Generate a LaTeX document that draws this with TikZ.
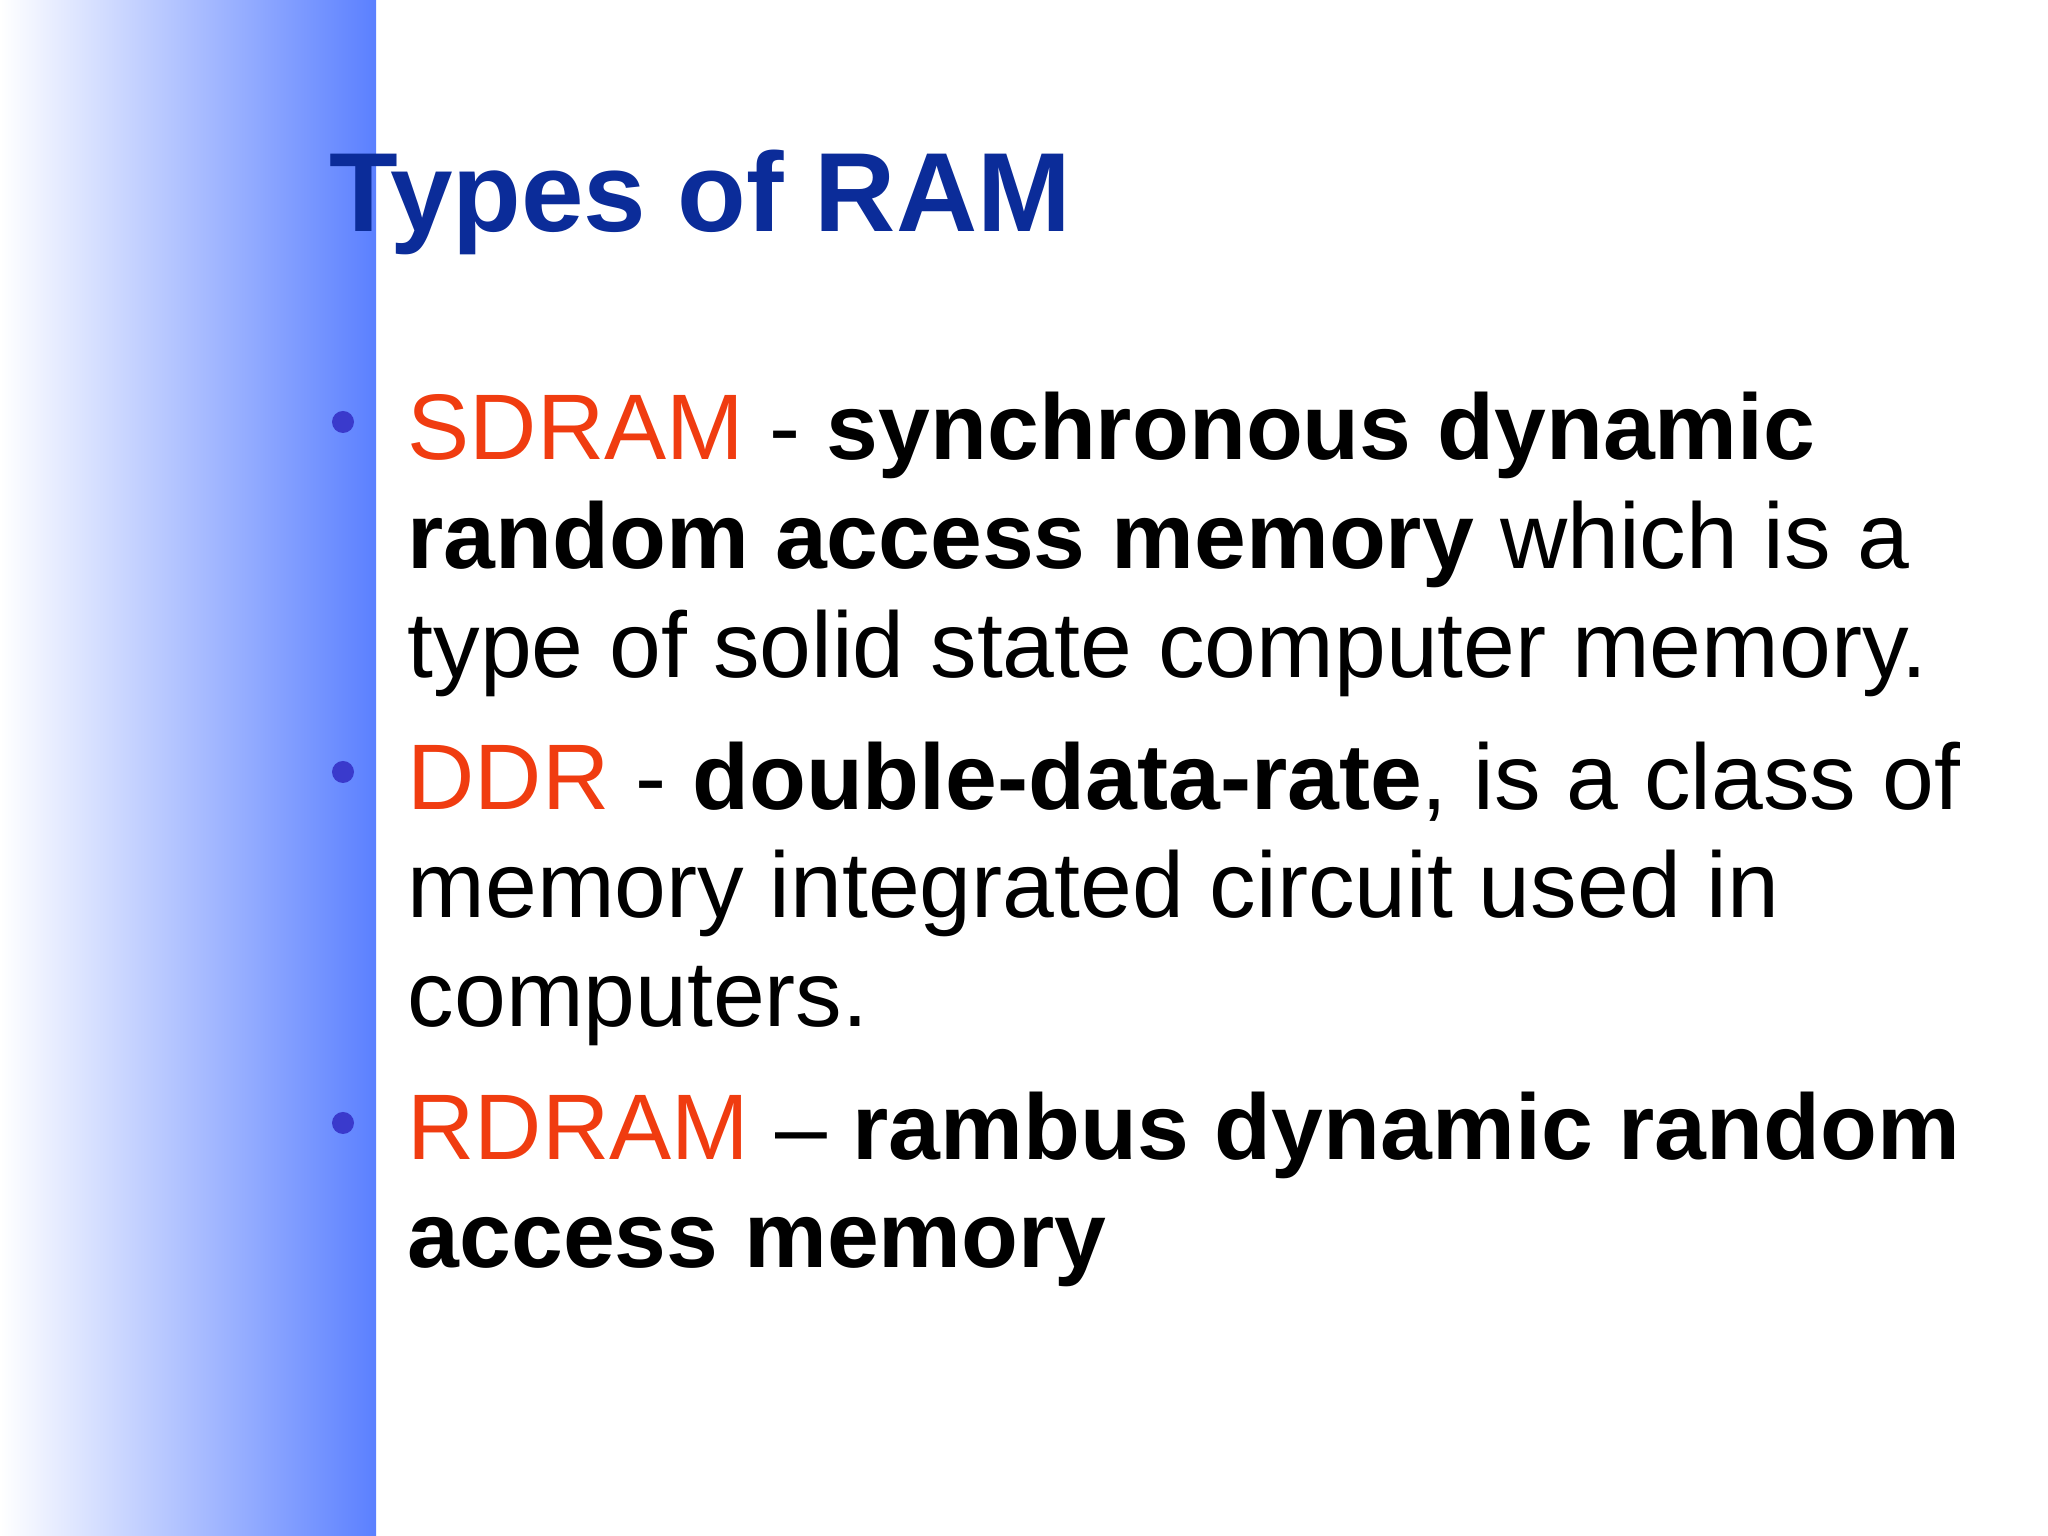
\documentclass[tikz,border=0pt]{standalone}
\usepackage{fontspec}
\setmainfont{Liberation Sans}
\definecolor{barblue}{HTML}{5B80FF}
\definecolor{titleblue}{HTML}{0B2C99}
\definecolor{termred}{HTML}{F03C10}
\definecolor{bulletblue}{HTML}{3A3ACC}
\begin{document}
\begin{tikzpicture}[x=1cm,y=1cm,
  line/.style={anchor=base west,inner sep=0pt,font=\fontsize{26.5pt}{31pt}\selectfont},
  bul/.style={circle,fill=bulletblue,inner sep=0pt,minimum size=0.22cm}]
\useasboundingbox (0,0) rectangle (20.48,15.36);
\fill[white] (0,0) rectangle (20.48,15.36);
\shade[left color=white,right color=barblue] (0,0) rectangle (3.76,15.36);
\node[anchor=base west,inner sep=0pt,text=titleblue,font=\fontsize{32pt}{38pt}\selectfont\bfseries] (title) at (3.29,13.04) {Types of RAM};
\node[bul] (b1) at (3.43,11.14) {};
\node[bul] (b2) at (3.43,7.64) {};
\node[bul] (b3) at (3.43,4.13) {};
\node[line] (l1) at (4.07,10.76) {\textcolor{termred}{SDRAM} - \textbf{synchronous dynamic}};
\node[line] (l2) at (4.07,9.67) {\textbf{random access memory} which is a};
\node[line] (l3) at (4.07,8.58) {type of solid state computer memory.};
\node[line] (l4) at (4.07,7.26) {\textcolor{termred}{DDR} - \textbf{double-data-rate}, is a class of};
\node[line] (l5) at (4.07,6.18) {memory integrated circuit used in};
\node[line] (l6) at (4.07,5.09) {computers.};
\node[line] (l7) at (4.07,3.76) {\textcolor{termred}{RDRAM} – \textbf{rambus dynamic random}};
\node[line] (l8) at (4.07,2.68) {\textbf{access memory}};
\end{tikzpicture}
\end{document}
